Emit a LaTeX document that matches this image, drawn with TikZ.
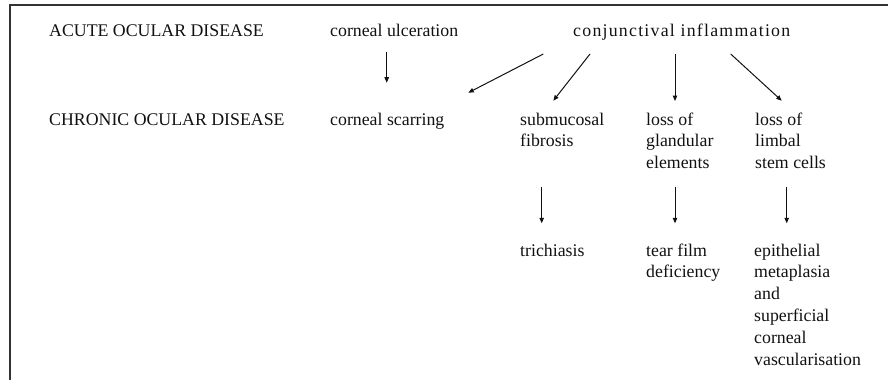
\documentclass[tikz,border=0pt]{standalone}
\usepackage{fontspec}
\setmainfont{Liberation Serif}
\usetikzlibrary{calc, arrows.meta}
\definecolor{Ink}{HTML}{111111}
\definecolor{Frame}{HTML}{333333}
\tikzset{
    term/.style={anchor=base west, inner sep=0pt, align=left, text=Ink, font=\fontsize{17.8}{21.8}\selectfont},
    arrow/.style={-{Triangle[length=5.5pt, width=4.5pt]}, line width=1pt, color=Ink},
}

\begin{document}
\begin{tikzpicture}[x=1pt, y=-1pt]
    \useasboundingbox (0,0) rectangle (888,380);

    % Cornice (solo lato superiore e sinistro)
    \draw[Frame, line width=1.4pt] (10,380) -- (10,5) -- (888,5);

    % Riga acuta
    \node[term] (acute) at (49,36) {ACUTE OCULAR DISEASE};
    \node[term] (ulc) at (330,36.5) {corneal ulceration};
    \node[term] (conj) at (573,36.5) {\addfontfeatures{LetterSpace=7}conjunctival inflammation};

    % Riga cronica (ancorata all'ultima riga di testo)
    \node[term] (chronic) at (49,125) {CHRONIC OCULAR DISEASE};
    \node[term] (scar) at (330,125) {corneal scarring};
    \node[term] (fib) at (520,146.8) {submucosal\\fibrosis};
    \node[term] (gland) at (646,168.6) {loss of\\glandular\\elements};
    \node[term] (limbal) at (755,168.6) {loss of\\limbal\\stem cells};

    % Esiti finali
    \node[term] (trich) at (520,256) {trichiasis};
    \node[term] (tear) at (646,277.8) {tear film\\deficiency};
    \node[term] (epi) at (754,365) {epithelial\\metaplasia\\and\\superficial\\corneal\\vascularisation};

    % Frecce dalla malattia acuta
    \draw[arrow] ($(ulc.base west)+(56.7,15.2)$) -- ($(scar.base west)+(56.7,-42.3)$);
    \draw[arrow] ($(conj.base west)+(-29.7,17.5)$) -- ($(scar.base west)+(138.3,-32.3)$);
    \draw[arrow] ($(conj.base west)+(17,17.5)$) -- ($(fib.base west)+(33.3,-46.1)$);
    \draw[arrow] ($(conj.base west)+(102,17.5)$) -- ($(gland.base west)+(29,-67.6)$);
    \draw[arrow] ($(conj.base west)+(157.7,17.5)$) -- ($(limbal.base west)+(26.7,-67.9)$);

    % Frecce verso gli esiti
    \draw[arrow] ($(fib.base west)+(21.7,39.9)$) -- ($(trich.base west)+(21.7,-32.7)$);
    \draw[arrow] ($(gland.base west)+(29,18.1)$) -- ($(tear.base west)+(29,-54.5)$);
    \draw[arrow] ($(limbal.base west)+(31.7,18.1)$) -- ($(epi.base west)+(32.7,-141.7)$);
\end{tikzpicture}
\end{document}
